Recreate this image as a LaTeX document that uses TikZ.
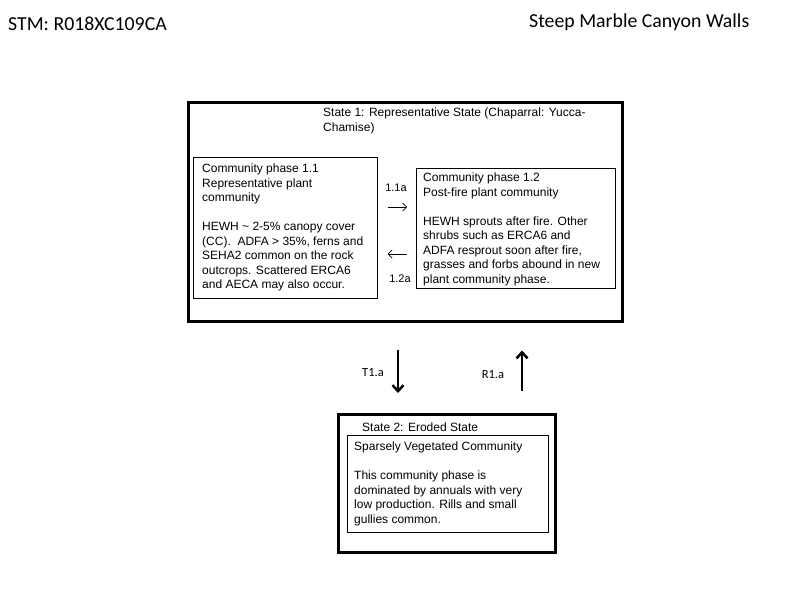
\documentclass[tikz,border=0pt]{standalone}
\usepackage{fontspec}
\setmainfont{Liberation Sans}
\newfontfamily\titlefont{Carlito}
\usetikzlibrary{arrows.meta}

\begin{document}
\begin{tikzpicture}[x=1pt,y=-1pt,
    statebox/.style={draw, line width=2.5pt, anchor=north west, inner sep=0},
    phasebox/.style={draw, line width=0.7pt, anchor=north west, inner sep=0},
    txt/.style={anchor=north west, inner sep=0, align=left, font=\fontsize{12}{14.5}\selectfont},
    lbl/.style={inner sep=0, font=\fontsize{11}{13}\selectfont},
    translbl/.style={inner sep=0, font=\titlefont\fontsize{12.5}{14}\selectfont},
    pathway/.style={-{Straight Barb[length=4pt,width=8pt]}, line width=0.7pt},
    transition/.style={-{Straight Barb[length=6pt,width=11pt]}, line width=2.5pt}]
        \useasboundingbox (0,0) rectangle (800,600);

        % Titles
        \node[anchor=base west, inner sep=0, font=\titlefont\fontsize{19.8}{23}\selectfont] (stm) at (8,30) {STM: R018XC109CA};
        \node[anchor=base west, inner sep=0, font=\titlefont\fontsize{19.8}{23}\selectfont] (site) at (529,27) {Steep Marble Canyon Walls};

        % State 1
        \node[statebox, minimum width=434, minimum height=219] (s1) at (187,101) {};
        \node[txt] (s1txt) at (323,108) {State 1: Representative State (Chaparral: Yucca-\\Chamise)};

        % Community phases
        \node[phasebox, minimum width=184, minimum height=141] (p11) at (193,157) {};
        \node[txt] (p11txt) at (202,164) {Community phase 1.1\\Representative plant\\community\\[14.5pt]HEWH \textasciitilde{} 2-5\% canopy cover\\(CC).\ \ ADFA > 35\%, ferns and\\SEHA2 common on the rock\\outcrops. Scattered ERCA6\\and AECA may also occur.};
        \node[phasebox, minimum width=199, minimum height=120] (p12) at (416,168) {};
        \node[txt] (p12txt) at (423,173) {Community phase 1.2\\Post-fire plant community\\[14.5pt]HEWH sprouts after fire. Other\\shrubs such as ERCA6 and\\ADFA resprout soon after fire,\\grasses and forbs abound in new\\plant community phase.};

        % Pathways
        \draw[pathway, shorten <=10pt, shorten >=9pt] (p11.east |- 0,207) -- (p12.west |- 0,207);
        \draw[pathway, shorten <=9pt, shorten >=10pt] (p12.west |- 0,254) -- (p11.east |- 0,254);
        \node[lbl, anchor=base] (l11a) at (396,191) {1.1a};
        \node[lbl, anchor=base] (l12a) at (400,282) {1.2a};

        % State 2
        \node[statebox, minimum width=217, minimum height=138] (s2) at (337,413) {};
        \node[txt] (s2txt) at (362,423) {State 2: Eroded State};
        \node[phasebox, minimum width=201, minimum height=97] (p21) at (347,435) {};
        \node[txt] (p21txt) at (354,442) {Sparsely Vegetated Community\\[14.5pt]This community phase is\\dominated by annuals with very\\low production. Rills and small\\gullies common.};

        % Transitions
        \draw[transition, shorten <=27pt, shorten >=20pt] (s1.south -| 398,0) -- (s2.north -| 398,0);
        \draw[transition, shorten <=22pt, shorten >=28pt] (s2.north -| 522,0) -- (s1.south -| 522,0);
        \node[translbl] (t1a) at (373,373) {T1.a};
        \node[translbl] (r1a) at (493,375) {R1.a};
    \end{tikzpicture}
\end{document}
